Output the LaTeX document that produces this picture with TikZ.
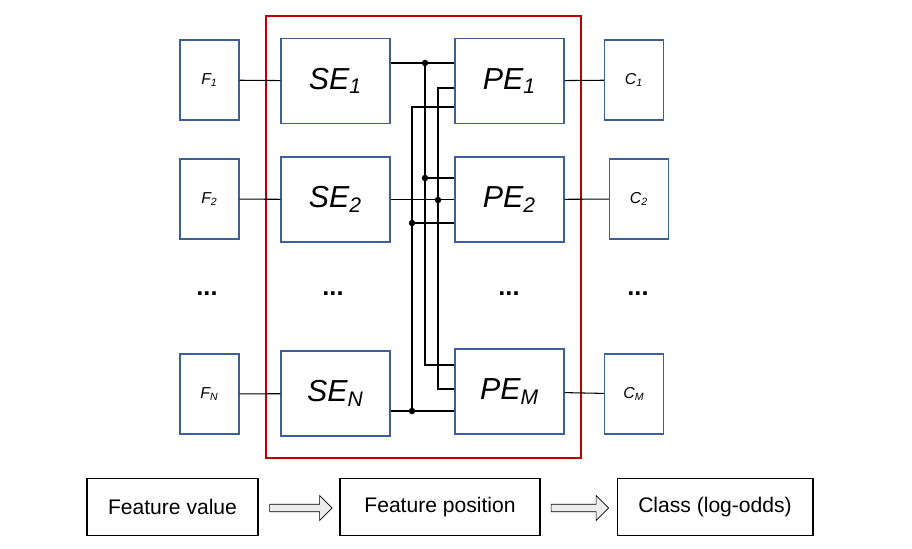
\documentclass[tikz,border=0pt]{standalone}
\usepackage{fontspec}
\setmainfont{Liberation Sans}
\usetikzlibrary{positioning,shapes.arrows}

\definecolor{steel}{RGB}{60,95,150}
\newcommand{\sub}[1]{\textsubscript{#1}}

\tikzset{
  blk/.style={draw=steel, semithick, minimum width=1.18cm, minimum height=1.6cm, font=\itshape\small},
  big/.style={draw=steel, semithick, minimum width=2.18cm, minimum height=1.7cm, font=\itshape\LARGE},
  leg/.style={draw, semithick, minimum height=1.14cm, font=\large},
  wire/.style={semithick},
  dot/.style={circle, fill, inner sep=1.3pt}
}

\begin{document}
\begin{tikzpicture}[x=0.02cm, y=-0.02cm]
    \useasboundingbox (0,0) rectangle (912,548);

    % feature inputs
    \node[blk] (F1) at (209.5,80) {F\sub{1}};
    \node[blk] (F2) at (209.5,199) {F\sub{2}};
    \node[blk] (FN) at (209.5,394) {F\sub{N}};

    % scalar embeddings
    \node[big] (SE1) at (335.5,81) {SE\sub{1}};
    \node[big] (SE2) at (335.5,199.5) {SE\sub{2}};
    \node[big] (SEN) at (335.5,393.5) {SE\sub{N}};

    % positional embeddings
    \node[big] (PE1) at (509.5,81) {PE\sub{1}};
    \node[big] (PE2) at (509.5,199.5) {PE\sub{2}};
    \node[big] (PEM) at (509.5,391.5) {PE\sub{M}};

    % classes
    \node[blk] (C1) at (634,80) {C\sub{1}};
    \node[blk] (C2) at (639,199) {C\sub{2}};
    \node[blk] (CM) at (634,394) {C\sub{M}};

    \foreach \x in {207,333,509,638}
      \node[font=\Large\bfseries] at (\x,294) {...};

    \draw[red!75!black, line width=1.5pt] (266,16) rectangle (581,458);

    \draw[wire] (F1) -- (SE1) (F2) -- (SE2) (FN) -- (SEN);
    \draw[wire] (PE1) -- (C1) (PE2) -- (C2) (PEM) -- (CM);

    % bus from SE_1
    \draw[wire] (SE1.east |- 0,63) -- (PE1.west |- 0,63);
    \draw[wire] (425,63) -- (425,365) -- (PEM.west |- 0,365);
    \draw[wire] (425,178) -- (PE2.west |- 0,178);
    \node[dot] at (425,63) {};
    \node[dot] at (425,178) {};

    % bus from SE_2
    \draw[wire] (SE2.east) -- (PE2.west);
    \draw[wire] (PE1.west |- 0,88) -- (438,88) -- (438,389) -- (PEM.west |- 0,389);
    \node[dot] at (438,200) {};

    % bus from SE_N
    \draw[wire] (SEN.east |- 0,411) -- (PEM.west |- 0,411);
    \draw[wire] (PE1.west |- 0,107) -- (412,107) -- (412,411);
    \draw[wire] (412,223) -- (PE2.west |- 0,223);
    \node[dot] at (412,411) {};
    \node[dot] at (412,223) {};

    % legend
    \node[leg, minimum width=3.42cm] (val) at (172.5,507) {Feature value};
    \node[leg, minimum width=4cm] (pos) at (440,507) {Feature position};
    \node[leg, minimum width=3.92cm] (cls) at (715,507) {Class (log-odds)};
    \node[single arrow, draw, fill=gray!15, minimum height=1.25cm, minimum width=0.5cm,
          single arrow head extend=0.1cm, inner sep=1pt] (a1) at (299,508) {};
    \node[single arrow, draw, fill=gray!15, minimum height=1.15cm, minimum width=0.5cm,
          single arrow head extend=0.1cm, inner sep=1pt] (a2) at (578,508) {};
\end{tikzpicture}
\end{document}
